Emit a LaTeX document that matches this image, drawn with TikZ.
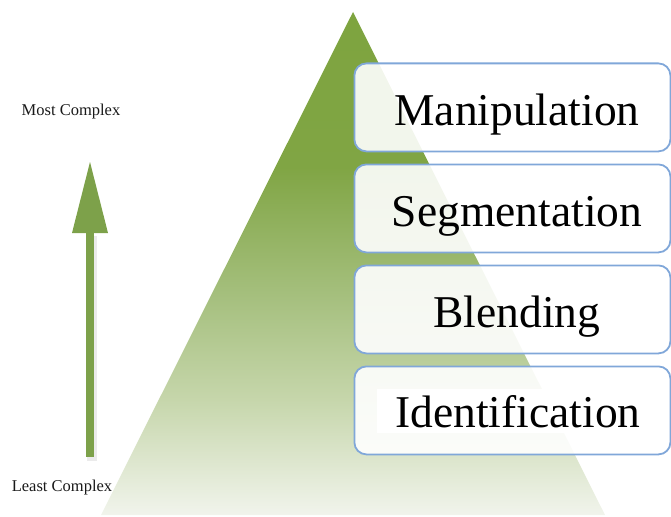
\documentclass[tikz,border=0pt]{standalone}
\usepackage{fontspec}
\setmainfont{Liberation Serif}
\usetikzlibrary{arrows.meta}
\definecolor{pyrtop}{HTML}{7EA43F}
\definecolor{pyrA}{HTML}{80A544}
\definecolor{pyrB}{HTML}{A6C07F}
\definecolor{pyrC}{HTML}{C6D6AB}
\definecolor{pyrbot}{HTML}{F1F4EC}
\definecolor{boxline}{HTML}{80A7D9}
\definecolor{arrowgreen}{HTML}{7DA14A}
\pgfdeclareverticalshading{pyrshade}{100bp}{
  color(0bp)=(pyrbot); color(25bp)=(pyrbot); color(36.5bp)=(pyrC);
  color(46.5bp)=(pyrB); color(59.6bp)=(pyrA); color(75bp)=(pyrtop); color(100bp)=(pyrtop)}
\tikzset{
  levelbox/.style={draw=boxline, line width=1.8pt, fill=white, fill opacity=0.9, text opacity=1, rounded corners=12pt},
  leveltext/.style={font=\fontsize{45.5}{48}\selectfont, text=black, inner sep=0pt},
  sidetext/.style={font=\fontsize{16.5}{18}\selectfont, text=black!90, inner sep=0pt}
}
\begin{document}
\begin{tikzpicture}[x=1pt,y=-1pt]
\useasboundingbox (0,0) rectangle (671,516);
% pyramid
\shade[shading=pyrshade] (353,12) -- (605,515) -- (101,515) -- cycle;
% arrow
\fill[black, opacity=0.08] (87,236) rectangle (97,461);
\fill[arrowgreen] (86,232) rectangle (94,457);
\fill[arrowgreen] (72,233) -- (90,162) -- (108,233) -- cycle;
% boxes
\node[levelbox, minimum width=316pt, minimum height=88pt, anchor=north west] (b1) at (353.5,62.5) {};
\node[levelbox, minimum width=316pt, minimum height=88pt, anchor=north west] (b2) at (353.5,163.5) {};
\node[levelbox, minimum width=316pt, minimum height=88pt, anchor=north west] (b3) at (353.5,264.5) {};
\node[levelbox, minimum width=316pt, minimum height=88pt, anchor=north west] (b4) at (353.5,365.5) {};
\node[leveltext, anchor=base] (t1) at (517,125) {Manipulation};
\node[leveltext, anchor=base] (t2) at (517,226) {Segmentation};
\node[leveltext, anchor=base] (t3) at (517,327) {Blending};
\node[leveltext, anchor=base, fill=white, inner xsep=18pt, inner ysep=6pt] (t4) at (518,427) {Identification};
% side labels
\node[sidetext] (most) at (71,112) {Most Complex};
\node[sidetext] (least) at (62,488) {Least Complex};
\end{tikzpicture}
\end{document}
